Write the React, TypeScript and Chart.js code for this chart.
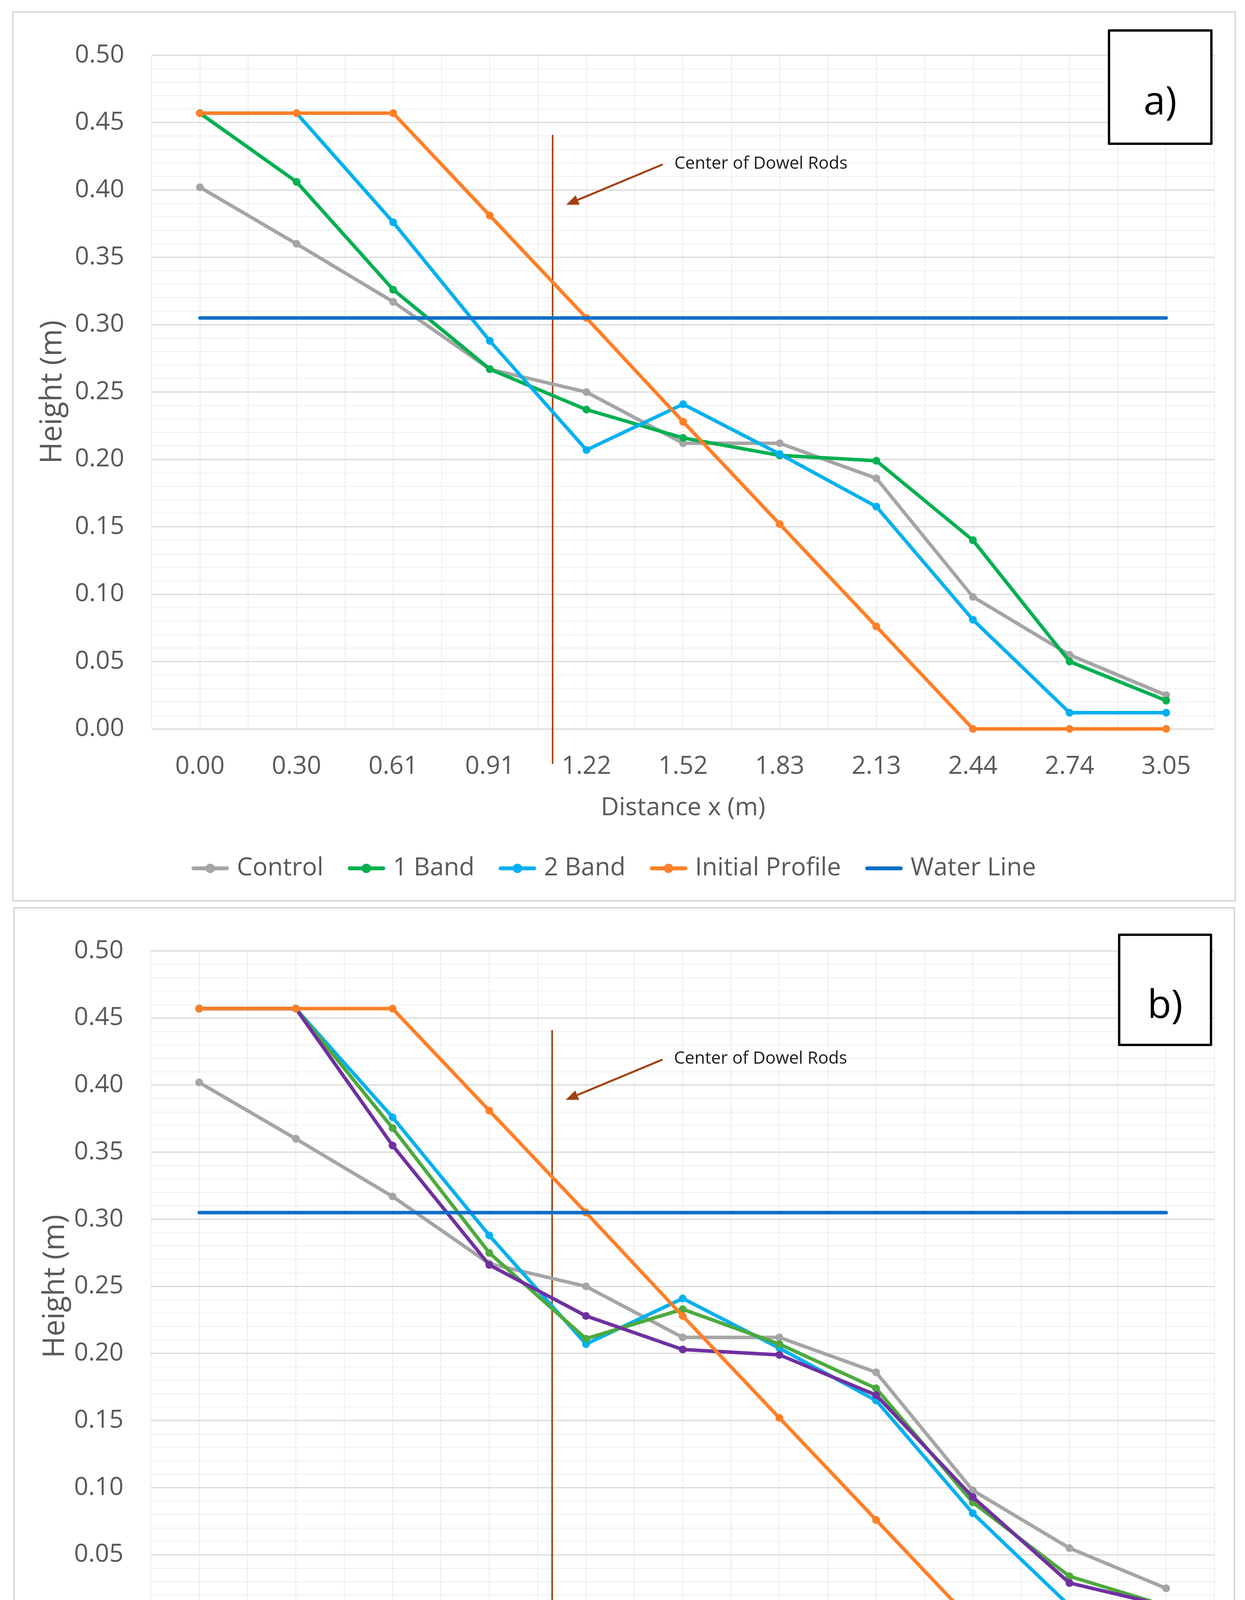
import React, { useEffect, useRef } from "react";
import { Chart, registerables } from "chart.js";

Chart.register(...registerables);

// x categories (distance in m)
const distances = ["0.00", "0.30", "0.61", "0.91", "1.22", "1.52", "1.83", "2.13", "2.44", "2.74", "3.05"];

// heights (m)
const control = [0.402, 0.36, 0.317, 0.267, 0.25, 0.212, 0.212, 0.186, 0.098, 0.055, 0.025];
const band1 = [0.457, 0.406, 0.326, 0.267, 0.237, 0.216, 0.203, 0.199, 0.14, 0.05, 0.021];
const band2 = [0.457, 0.457, 0.376, 0.288, 0.207, 0.241, 0.204, 0.165, 0.081, 0.012, 0.012];
const band4 = [0.457, 0.457, 0.368, 0.275, 0.211, 0.233, 0.207, 0.174, 0.089, 0.034, 0.012];
const band6 = [0.457, 0.457, 0.355, 0.266, 0.228, 0.203, 0.199, 0.169, 0.093, 0.029, 0.012];
const initialProfile = [0.457, 0.457, 0.457, 0.381, 0.305, 0.228, 0.152, 0.076, 0, 0, 0];
const waterLine = [0.305, 0.305, 0.305, 0.305, 0.305, 0.305, 0.305, 0.305, 0.305, 0.305, 0.305];

// dowel rod marker, in axis units (category index, height)
const dowelAt = 3.65;
const dowelTop = 0.441;
const dowelBottom = -0.026;
const arrowFrom = [4.79, 0.419];
const arrowTo = [3.79, 0.389];
const noteAt = [4.91, 0.4195];
const noteText = "Center of Dowel Rods";

const TEXT = "#595959";
const FONT = "'Open Sans', sans-serif";
const DOWEL = "#A3410F";

const COLORS = {
  control: "#A5A5A5",
  band1: "#00B050",
  band2: "#00B0F0",
  band4: "#4CAA3C",
  band6: "#7030A0",
  initial: "#FF7F27",
  water: "#0E6FC7",
};

const isMajor = (v: number) => Math.round(v * 100) % 5 === 0;

function legendSymbol(color: string, marker: boolean) {
  const c = document.createElement("canvas");
  c.width = 96;
  c.height = 28;
  const g = c.getContext("2d")!;
  g.strokeStyle = color;
  g.lineWidth = 10;
  g.lineCap = "round";
  g.beginPath();
  g.moveTo(5, 14);
  g.lineTo(91, 14);
  g.stroke();
  if (marker) {
    g.fillStyle = color;
    g.beginPath();
    g.arc(48, 14, 12, 0, Math.PI * 2);
    g.fill();
  }
  return c;
}

// light lines on the category edges (Excel draws both centre and edge lines)
const cellLines = {
  id: "cellLines",
  beforeDraw(chart: any) {
    const { ctx, chartArea: a, scales } = chart;
    const x = scales.x;
    ctx.save();
    ctx.strokeStyle = "#EBEBEB";
    ctx.lineWidth = 2;
    for (let i = 0; i <= distances.length; i++) {
      const px = Math.round(x.getPixelForValue(i - 0.5));
      ctx.beginPath();
      ctx.moveTo(px, a.top);
      ctx.lineTo(px, a.bottom);
      ctx.stroke();
    }
    ctx.restore();
  },
};

const dowelNote = {
  id: "dowelNote",
  beforeDatasetsDraw(chart: any) {
    const { ctx, scales } = chart;
    const px = scales.x.getPixelForValue(dowelAt);
    ctx.save();
    ctx.strokeStyle = DOWEL;
    ctx.lineWidth = 4;
    ctx.beginPath();
    ctx.moveTo(px, scales.y.getPixelForValue(dowelTop));
    ctx.lineTo(px, scales.y.getPixelForValue(dowelBottom));
    ctx.stroke();
    ctx.restore();
  },
  afterDatasetsDraw(chart: any) {
    const { ctx, scales } = chart;
    const X = (v: number) => scales.x.getPixelForValue(v);
    const Y = (v: number) => scales.y.getPixelForValue(v);
    const x1 = X(arrowFrom[0]), y1 = Y(arrowFrom[1]);
    const x2 = X(arrowTo[0]), y2 = Y(arrowTo[1]);
    const ang = Math.atan2(y2 - y1, x2 - x1);
    const head = 32, half = 13;
    const bx = x2 - head * Math.cos(ang), by = y2 - head * Math.sin(ang);
    ctx.save();
    ctx.strokeStyle = DOWEL;
    ctx.fillStyle = DOWEL;
    ctx.lineWidth = 5;
    ctx.beginPath();
    ctx.moveTo(x1, y1);
    ctx.lineTo(bx, by);
    ctx.stroke();
    ctx.beginPath();
    ctx.moveTo(x2, y2);
    ctx.lineTo(bx + half * Math.sin(ang), by - half * Math.cos(ang));
    ctx.lineTo(bx - half * Math.sin(ang), by + half * Math.cos(ang));
    ctx.closePath();
    ctx.fill();
    ctx.fillStyle = "#1A1A1A";
    ctx.font = `44px ${FONT}`;
    ctx.textAlign = "left";
    ctx.textBaseline = "middle";
    ctx.fillText(noteText, X(noteAt[0]), Y(noteAt[1]));
    ctx.restore();
  },
};

interface Series {
  label: string;
  data: number[];
  color: string;
  marker: boolean;
}

interface PanelProps {
  series: Series[];
  frame: { left: number; top: number; width: number; height: number };
  pad: { left: number; right: number; top: number; bottom: number };
  yAxisWidth: number;
  tag: string;
  tagBox: { left: number; top: number; width: number; height: number; shift: number };
}

const Panel: React.FC<PanelProps> = ({ series, frame, pad, yAxisWidth, tag, tagBox }) => {
  const canvasRef = useRef<HTMLCanvasElement>(null);
  const border = 4;
  const w = frame.width - 2 * border;
  const h = frame.height - 2 * border;

  useEffect(() => {
    if (!canvasRef.current) return;
    const chart = new Chart(canvasRef.current, {
      type: "line",
      data: {
        labels: distances,
        datasets: series.map((s, i) => ({
          label: s.label,
          data: s.data,
          borderColor: s.color,
          backgroundColor: s.color,
          pointBackgroundColor: s.color,
          pointBorderWidth: 0,
          pointRadius: s.marker ? 10 : 0,
          pointHoverRadius: s.marker ? 10 : 0,
          borderWidth: 9,
          borderCapStyle: "round",
          borderJoinStyle: "round",
          tension: 0,
          fill: false,
          clip: false,
          order: series.length - i,
        })),
      },
      options: {
        responsive: false,
        animation: false,
        layout: { padding: pad },
        plugins: {
          tooltip: { enabled: false },
          legend: {
            position: "bottom",
            labels: {
              usePointStyle: true,
              pointStyleWidth: 72,
              padding: 74,
              color: TEXT,
              font: { size: 64, family: FONT },
              sort: (a: any, b: any) => a.datasetIndex - b.datasetIndex,
              generateLabels: (c: any) =>
                (Chart.defaults.plugins.legend.labels as any).generateLabels(c).map((item: any) => {
                  const s = series[item.datasetIndex];
                  return { ...item, pointStyle: legendSymbol(s.color, s.marker) };
                }),
            },
          },
        },
        scales: {
          x: {
            type: "category",
            offset: true,
            grid: { offset: false, color: "#EBEBEB", lineWidth: 2, drawTicks: false },
            border: { display: false },
            ticks: {
              color: TEXT,
              font: { size: 64, family: FONT },
              padding: 58,
              maxRotation: 0,
              autoSkip: false,
            },
            title: {
              display: true,
              text: "Distance x (m)",
              color: TEXT,
              font: { size: 64, family: FONT },
              padding: { top: 0, bottom: 10 },
            },
            afterFit: (s: any) => {
              s.height = 251;
            },
          },
          y: {
            type: "linear",
            min: 0,
            max: 0.5,
            grid: {
              color: (c: any) => (isMajor(c.tick.value) ? "#D9D9D9" : "#EEEEEE"),
              lineWidth: (c: any) => (isMajor(c.tick.value) ? 3 : 2),
              drawTicks: false,
            },
            border: { display: false },
            ticks: {
              stepSize: 0.01,
              maxTicksLimit: 100,
              autoSkip: false,
              padding: 70,
              color: TEXT,
              font: { size: 64, family: FONT },
              callback: (v: any) => (isMajor(Number(v)) ? Number(v).toFixed(2) : ""),
            },
            title: {
              display: true,
              text: "Height (m)",
              color: TEXT,
              font: { size: 76, family: FONT },
              padding: { top: 45, bottom: 0 },
            },
            afterFit: (s: any) => {
              s.width = yAxisWidth;
            },
          },
        },
      } as any,
      plugins: [cellLines, dowelNote],
    });
    return () => chart.destroy();
  }, []);

  return (
    <>
      <div
        style={{
          position: "absolute",
          left: frame.left,
          top: frame.top,
          width: frame.width,
          height: frame.height,
          border: `${border}px solid #D9D9D9`,
          boxSizing: "border-box",
          background: "#fff",
        }}
      >
        <canvas ref={canvasRef} width={w} height={h} style={{ display: "block", width: w, height: h }} />
      </div>
      <div
        style={{
          position: "absolute",
          left: tagBox.left,
          top: tagBox.top,
          width: tagBox.width,
          height: tagBox.height,
          border: "6px solid #000",
          borderRadius: 3,
          boxSizing: "border-box",
          background: "#fff",
          display: "flex",
          alignItems: "center",
          justifyContent: "center",
          paddingTop: tagBox.shift,
          fontFamily: FONT,
          fontSize: 100,
          color: "#000",
          lineHeight: 1,
        }}
      >
        {tag}
      </div>
    </>
  );
};

const seriesA: Series[] = [
  { label: "Control", data: control, color: COLORS.control, marker: true },
  { label: "1 Band", data: band1, color: COLORS.band1, marker: true },
  { label: "2 Band", data: band2, color: COLORS.band2, marker: true },
  { label: "Initial Profile", data: initialProfile, color: COLORS.initial, marker: true },
  { label: "Water Line", data: waterLine, color: COLORS.water, marker: false },
];

const seriesB: Series[] = [
  { label: "Control", data: control, color: COLORS.control, marker: true },
  { label: "2 Band", data: band2, color: COLORS.band2, marker: true },
  { label: "4 Band", data: band4, color: COLORS.band4, marker: true },
  { label: "6 Band", data: band6, color: COLORS.band6, marker: true },
  { label: "Initial Profile", data: initialProfile, color: COLORS.initial, marker: true },
  { label: "Water Line", data: waterLine, color: COLORS.water, marker: false },
];

export default function App() {
  useEffect(() => {
    document.body.style.margin = "0";
  }, []);

  return (
    <div style={{ position: "relative", width: 3186, height: 4630, background: "#fff" }}>
      <Panel
        series={seriesA}
        frame={{ left: 31, top: 29, width: 3132, height: 2279 }}
        pad={{ left: 10, right: 51, top: 64, bottom: 39 }}
        yAxisWidth={343}
        tag="a)"
        tagBox={{ left: 2835, top: 75, width: 268, height: 296, shift: 62 }}
      />
      <Panel
        series={seriesB}
        frame={{ left: 34, top: 2322, width: 3127, height: 2278 }}
        pad={{ left: 14, right: 49, top: 60, bottom: 45 }}
        yAxisWidth={334}
        tag="b)"
        tagBox={{ left: 2861, top: 2390, width: 241, height: 288, shift: 66 }}
      />
    </div>
  );
}
